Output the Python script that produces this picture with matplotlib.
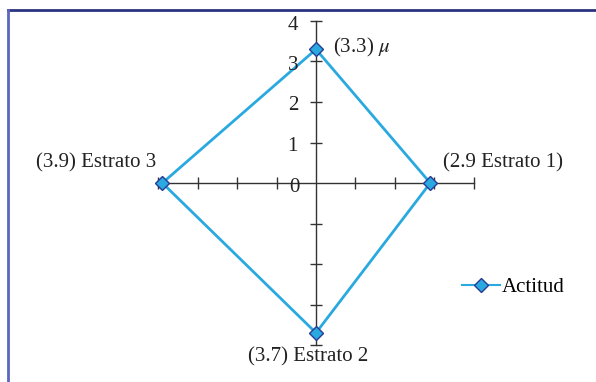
import numpy as np
import matplotlib
matplotlib.use('Agg')
import matplotlib.pyplot as plt
from matplotlib.lines import Line2D

# Radar-style data: spokes clockwise from the top
categories = ['μ', 'Estrato 1', 'Estrato 2', 'Estrato 3']
values = [3.3, 2.9, 3.7, 3.9]
point_labels = ['(3.3) $\\mu$', '(2.9 Estrato 1)', '(3.7) Estrato 2', '(3.9) Estrato 3']
angles_deg = [90, 0, -90, 180]
axis_ticks = [1, 2, 3, 4]
series_name = 'Actitud'

plt.rcParams['font.family'] = ['Liberation Serif', 'DejaVu Serif']
plt.rcParams['mathtext.fontset'] = 'stix'

fig = plt.figure(figsize=(5.96, 3.82), dpi=100)
ax = fig.add_axes([0, 0, 1, 1])
ax.set_xlim(-316 / 39.4, (596 - 316) / 39.4)
ax.set_ylim(-(382 - 183) / 40.5, 183 / 40.5)
ax.axis('off')

axis_col = '#333333'
line_col = '#29a9e0'
fs = 15

# cross axes with tick marks
rmax = max(axis_ticks)
ax.plot([-rmax, rmax], [0, 0], color=axis_col, lw=1, zorder=1)
ax.plot([0, 0], [-rmax, rmax], color=axis_col, lw=1, zorder=1)
tk = np.array([-t for t in axis_ticks[::-1]] + axis_ticks)
ax.plot(tk, np.zeros_like(tk), ls='none', marker='|', ms=8, mew=1, color=axis_col, zorder=1)
ax.plot(np.zeros_like(tk), tk, ls='none', marker='_', ms=8, mew=1, color=axis_col, zorder=1)

# value labels on the upper spoke
for t in axis_ticks:
    ax.annotate(str(t), (0, t), xytext=(-18, -4), textcoords='offset pixels',
                ha='right', va='center', fontsize=fs, color='#222222')
ax.annotate('0', (0, 0), xytext=(-16, -5), textcoords='offset pixels',
            ha='right', va='center', fontsize=fs, color='#222222')

# series polygon
ang = np.deg2rad(angles_deg)
xs = np.array(values) * np.cos(ang)
ys = np.array(values) * np.sin(ang)
ax.plot(np.append(xs, xs[0]), np.append(ys, ys[0]), color=line_col, lw=2, zorder=2)
ax.plot(xs, ys, ls='none', marker='D', ms=7, mfc=line_col, mec='#283c96', mew=1, zorder=3)

# category labels
offsets = [(17, 2, 'left', 'center'), (13, 20, 'left', 'center'),
           (-8, -24, 'center', 'center'), (-6, 20, 'right', 'center')]
for x, y, lab, (dx, dy, ha, va) in zip(xs, ys, point_labels, offsets):
    ax.annotate(lab, (x, y), xytext=(dx, dy), textcoords='offset pixels',
                ha=ha, va=va, fontsize=fs, color='#222222')

# legend
handle = Line2D([], [], color=line_col, lw=1.5, marker='D', ms=7,
                mfc=line_col, mec='#283c96', mew=1)
fig.legend([handle], [series_name], loc='center left',
           bbox_to_anchor=(462 / 596, 1 - 287 / 382), frameon=False,
           fontsize=fs, handlelength=1.8, handletextpad=0.12,
           borderpad=0, borderaxespad=0)

# frame lines (top and left)
fig.add_artist(Line2D([8 / 596, 1], [1 - 10 / 382, 1 - 10 / 382],
                      transform=fig.transFigure, color='#2b3380', lw=2))
fig.add_artist(Line2D([8 / 596, 8 / 596], [0, 1 - 10 / 382],
                      transform=fig.transFigure, color='#5a67bd', lw=2))

fig.savefig('out.png', dpi=100)
